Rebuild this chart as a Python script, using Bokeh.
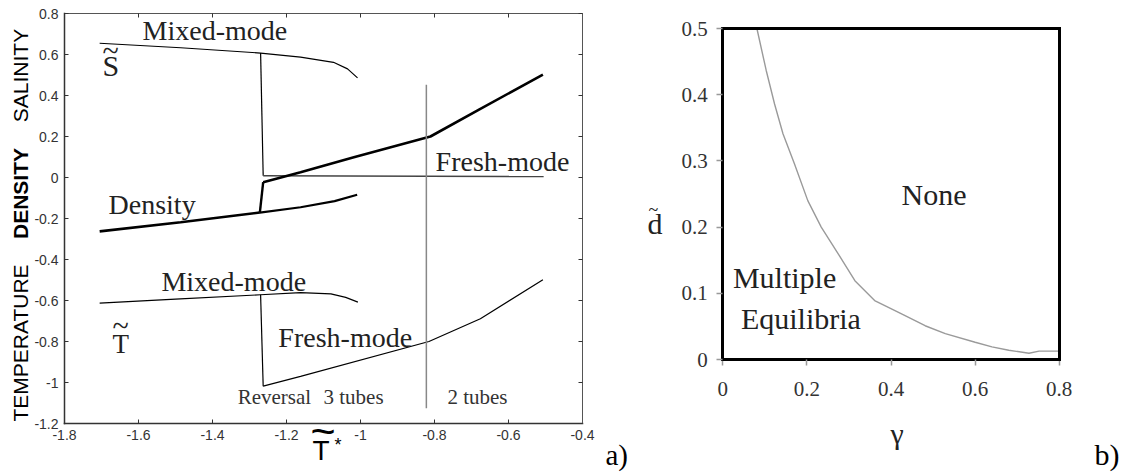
from bokeh.plotting import figure
from bokeh.layouts import row
from bokeh.models import Label, LinearAxis, FixedTicker, Range1d
from bokeh.embed import file_html
from bokeh.resources import INLINE
import math

# ---------------- Panel a) data ----------------
x_ticks_a = [-1.8, -1.6, -1.4, -1.2, -1.0, -0.8, -0.6, -0.4]
x_tick_labels_a = ["-1.8", "-1.6", "-1.4", "-1.2", "-1", "-0.8", "-0.6", "-0.4"]
y_ticks_a = [-1.2, -1.0, -0.8, -0.6, -0.4, -0.2, 0.0, 0.2, 0.4, 0.6, 0.8]
y_tick_labels_a = ["-1.2", "-1", "-0.8", "-0.6", "-0.4", "-0.2", "0", "0.2", "0.4", "0.6", "0.8"]

s_mixed_x = [-1.705, -1.486, -1.27, -1.162, -1.073, -1.035, -1.008]
s_mixed_y = [0.655, 0.633, 0.607, 0.587, 0.562, 0.530, 0.486]
s_jump_x = [-1.27, -1.263]
s_jump_y = [0.607, 0.008]
s_fresh_x = [-1.263, -0.505]
s_fresh_y = [0.008, 0.005]

rho_mixed_x = [-1.705, -1.486, -1.272]
rho_mixed_y = [-0.263, -0.218, -0.171]
rho_mixed_tail_x = [-1.272, -1.162, -1.07, -1.009]
rho_mixed_tail_y = [-0.171, -0.145, -0.115, -0.084]
rho_jump_x = [-1.272, -1.263]
rho_jump_y = [-0.171, -0.023]
rho_fresh_x = [-1.263, -1.162, -1.018, -0.811, -0.676, -0.507]
rho_fresh_y = [-0.023, 0.026, 0.099, 0.200, 0.335, 0.502]

t_mixed_x = [-1.705, -1.5, -1.27, -1.162, -1.08, -1.04, -1.007]
t_mixed_y = [-0.613, -0.593, -0.572, -0.562, -0.568, -0.585, -0.608]
t_jump_x = [-1.27, -1.263]
t_jump_y = [-0.572, -1.018]
t_fresh_x = [-1.263, -1.162, -0.815, -0.676, -0.507]
t_fresh_y = [-1.018, -0.970, -0.800, -0.689, -0.499]

tubes_x = [-0.822, -0.822]
tubes_y = [0.452, -1.125]

# ---------------- Panel b) data ----------------
x_ticks_b = [0.0, 0.2, 0.4, 0.6, 0.8]
x_tick_labels_b = ["0", "0.2", "0.4", "0.6", "0.8"]
y_ticks_b = [0.0, 0.1, 0.2, 0.3, 0.4, 0.5]
y_tick_labels_b = ["0", "0.1", "0.2", "0.3", "0.4", "0.5"]

gamma = [0.081, 0.103, 0.123, 0.143, 0.170, 0.202, 0.234, 0.274, 0.314, 0.361,
         0.425, 0.481, 0.529, 0.600, 0.640, 0.680, 0.728, 0.752, 0.800]
d_crit = [0.500, 0.437, 0.386, 0.341, 0.296, 0.240, 0.200, 0.160, 0.119, 0.089,
          0.069, 0.051, 0.039, 0.026, 0.019, 0.014, 0.0095, 0.0126, 0.0126]

SERIF = "Liberation Serif"
SANS = "Liberation Sans"
H = 472
W1 = 640
W2 = 480
SY1 = 205.0    # px per unit, panel a (y)
SY2 = 662.0    # px per unit, panel b (y)

# ================= Panel a =================
p1 = figure(width=W1, height=H,
            x_range=Range1d(-1.8 - 64 / 370, -0.4 + 58 / 370),
            y_range=Range1d(-1.2 - (H - 423) / SY1, 0.8 + 13 / SY1),
            output_backend="svg", toolbar_location=None,
            min_border_left=0, min_border_right=0, min_border_top=0, min_border_bottom=0)
p1.xgrid.visible = False
p1.ygrid.visible = False
p1.outline_line_color = None

xa = p1.xaxis[0]
ya = p1.yaxis[0]
xa.fixed_location = -1.2
xa.bounds = (-1.8, -0.4)
ya.fixed_location = -1.8
ya.bounds = (-1.2, 0.8)
for ax, ticks, labels in ((xa, x_ticks_a, x_tick_labels_a), (ya, y_ticks_a, y_tick_labels_a)):
    ax.ticker = FixedTicker(ticks=ticks)
    ax.major_label_overrides = {t: l for t, l in zip(ticks, labels)}
    ax.major_tick_in = 4
    ax.major_tick_out = 0
    ax.minor_tick_line_color = None
    ax.axis_line_color = "#333333"
    ax.axis_line_width = 1.5
    ax.axis_line_cap = "square"
    ax.major_tick_line_color = "#333333"
    ax.major_label_text_font = SANS
    ax.major_label_text_font_size = "14px"
    ax.major_label_text_color = "#333333"
    ax.major_label_standoff = 6

ax_top = LinearAxis(ticker=FixedTicker(ticks=x_ticks_a), fixed_location=0.8, bounds=(-1.8, -0.4),
                    major_label_text_color=None, major_tick_in=4, major_tick_out=0,
                    minor_tick_line_color=None, axis_line_color="#555555", axis_line_width=1,
                    major_tick_line_color="#333333")
ax_right = LinearAxis(ticker=FixedTicker(ticks=y_ticks_a), fixed_location=-0.4, bounds=(-1.2, 0.8),
                      major_label_text_color=None, major_tick_in=4, major_tick_out=0,
                      minor_tick_line_color=None, axis_line_color="#555555", axis_line_width=1,
                      major_tick_line_color="#333333")
p1.add_layout(ax_top, "above")
p1.add_layout(ax_right, "right")

thin = dict(line_color="black", line_width=1.2)
p1.line(s_mixed_x, s_mixed_y, **thin)
p1.line(s_jump_x, s_jump_y, **thin)
p1.line(s_fresh_x, s_fresh_y, line_color="#444444", line_width=1.5)
p1.line(rho_mixed_x, rho_mixed_y, line_color="black", line_width=2.6)
p1.line(rho_mixed_tail_x, rho_mixed_tail_y, line_color="black", line_width=2.2)
p1.line(rho_jump_x, rho_jump_y, line_color="black", line_width=2.4)
p1.line(rho_fresh_x, rho_fresh_y, line_color="black", line_width=2.6)
p1.line(t_mixed_x, t_mixed_y, **thin)
p1.line(t_jump_x, t_jump_y, **thin)
p1.line(t_fresh_x, t_fresh_y, **thin)
p1.line(tubes_x, tubes_y, line_color="#888888", line_width=1.5)


def lab(p, sy, x, y, text, size, font=SERIF, color="#222222", style="normal"):
    """Label whose baseline sits at data y (placed by its middle, 0.34 em above)."""
    px = float(size.replace("px", ""))
    p.add_layout(Label(x=x, y=y + 0.34 * px / sy, text=text, text_font=font,
                       text_font_size=size, text_color=color, text_font_style=style,
                       text_align="left", text_baseline="middle"))


def vlab(p, x, y, text, size, style="normal"):
    p.add_layout(Label(x=x, y=y, text=text, text_font=SANS, text_font_size=size,
                       text_color="black", text_font_style=style, text_align="center",
                       text_baseline="middle", angle=math.pi / 2))


lab(p1, SY1, -1.589, 0.670, "Mixed-mode", "28px")
lab(p1, SY1, -1.681, -0.176, "Density", "28px")
lab(p1, SY1, -0.797, 0.034, "Fresh-mode", "28px")
lab(p1, SY1, -1.538, -0.556, "Mixed-mode", "28px")
lab(p1, SY1, -1.222, -0.829, "Fresh-mode", "28px")
lab(p1, SY1, -1.332, -1.107, "Reversal", "21px", color="#333333")
lab(p1, SY1, -1.100, -1.107, "3 tubes", "21px", color="#333333")
lab(p1, SY1, -0.765, -1.107, "2 tubes", "21px", color="#333333")
lab(p1, SY1, -1.697, 0.498, "S", "30px")
lab(p1, SY1, -1.697, 0.571, "~", "30px")
lab(p1, SY1, -1.670, -0.859, "T", "27px")
lab(p1, SY1, -1.670, -0.771, "~", "30px")
lab(p1, SY1, -0.338, -1.400, "a)", "29px", color="black")
# x-axis title: T with tilde and star
lab(p1, SY1, -1.130, -1.380, "T", "28px", font=SANS, color="black")
lab(p1, SY1, -1.135, -1.307, "~", "43px", font=SANS, color="black")
lab(p1, SY1, -1.070, -1.337, "*", "18px", font=SANS, color="black")
# stacked vertical y titles
vlab(p1, -1.9176, 0.4976, "SALINITY", "21px")
vlab(p1, -1.9176, -0.078, "DENSITY", "21px", style="bold")
vlab(p1, -1.9176, -0.8073, "TEMPERATURE", "21px")

# ================= Panel b =================
p2 = figure(width=W2, height=H,
            x_range=Range1d(-82 / 418.75, 0.8 + 61 / 418.75),
            y_range=Range1d(-(H - 359) / SY2, 0.5 + 28 / SY2),
            output_backend="svg", toolbar_location=None,
            min_border_left=0, min_border_right=0, min_border_top=0, min_border_bottom=0)
p2.xgrid.visible = False
p2.ygrid.visible = False
p2.outline_line_color = None

xb = p2.xaxis[0]
yb = p2.yaxis[0]
xb.fixed_location = 0.0
xb.bounds = (0.0, 0.8)
yb.fixed_location = 0.0
yb.bounds = (0.0, 0.5)
for ax, ticks, labels, standoff in ((xb, x_ticks_b, x_tick_labels_b, 16),
                                    (yb, y_ticks_b, y_tick_labels_b, 9)):
    ax.ticker = FixedTicker(ticks=ticks)
    ax.major_label_overrides = {t: l for t, l in zip(ticks, labels)}
    ax.major_tick_in = 0
    ax.major_tick_out = 6
    ax.minor_tick_line_color = None
    ax.axis_line_color = "black"
    ax.axis_line_width = 3
    ax.axis_line_cap = "square"
    ax.major_tick_line_color = "#999999"
    ax.major_tick_line_width = 1.5
    ax.major_label_text_font = SERIF
    ax.major_label_text_font_size = "21px"
    ax.major_label_text_color = "#333333"
    ax.major_label_standoff = standoff

bx_top = LinearAxis(fixed_location=0.5, bounds=(0.0, 0.8), ticker=FixedTicker(ticks=[]),
                    major_label_text_color=None, major_tick_line_color=None,
                    minor_tick_line_color=None, axis_line_color="black", axis_line_width=3,
                    axis_line_cap="square")
bx_right = LinearAxis(fixed_location=0.8, bounds=(0.0, 0.5), ticker=FixedTicker(ticks=[]),
                      major_label_text_color=None, major_tick_line_color=None,
                      minor_tick_line_color=None, axis_line_color="black", axis_line_width=3,
                      axis_line_cap="square")
p2.add_layout(bx_top, "above")
p2.add_layout(bx_right, "right")

p2.line(gamma, d_crit, line_color="#9a9a9a", line_width=1.4)

lab(p2, SY2, 0.425, 0.234, "None", "30px")
lab(p2, SY2, 0.024, 0.109, "Multiple", "30px")
lab(p2, SY2, 0.043, 0.047, "Equilibria", "30px")
lab(p2, SY2, 0.3988, -0.1269, "\u03b3", "30px")
lab(p2, SY2, 0.8836, -0.1586, "b)", "30px", color="black")
lab(p2, SY2, -0.1791, 0.1903, "d", "30px")
lab(p2, SY2, -0.1767, 0.216, "~", "18px")

layout = row(p1, p2)
open("out.html", "w").write(file_html(layout, INLINE))
